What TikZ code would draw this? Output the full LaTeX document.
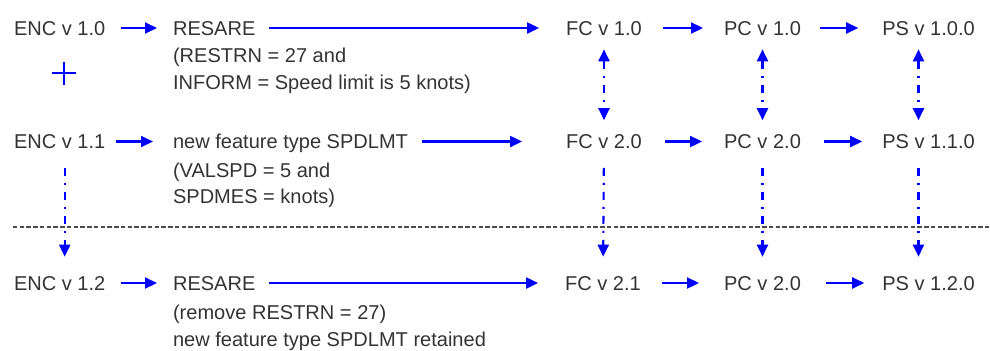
\documentclass[tikz,border=0pt]{standalone}
\usepackage{fontspec}
\setmainfont{Liberation Sans}
\usetikzlibrary{arrows.meta}

\begin{document}
\begin{tikzpicture}[line width=1.2pt,>={Triangle[length=0.24cm,width=0.22cm]},
  lbl/.style={inner sep=0pt,text height=0.29cm,text depth=0pt,text=black!80,font=\fontsize{11.4}{14}\selectfont},
  flow/.style={->,blue,shorten <=0.3cm,shorten >=0.3cm},
  link/.style={blue,dash pattern=on 0.16cm off 0.14cm on 0.04cm off 0.14cm,shorten <=0.26cm,shorten >=0.26cm}]
  \useasboundingbox (0,0) rectangle (19.8,-7);
  % ENC v 1.0
  \node[lbl,anchor=west] (enc10) at (0.26,-0.56) {ENC v 1.0};
  \node[lbl,anchor=west] (resare1) at (3.44,-0.56) {RESARE};
  \node[lbl,anchor=west] (resare1b) at (3.44,-1.10) {(RESTRN = 27 and};
  \node[lbl,anchor=west] (resare1c) at (3.44,-1.64) {INFORM = Speed limit is 5 knots)};
  \node[lbl] (fc10) at (12.08,-0.56) {FC v 1.0};
  \node[lbl] (pc10) at (15.25,-0.56) {PC v 1.0};
  \node[lbl] (ps100) at (18.57,-0.56) {PS v 1.0.0};
  \draw[blue,line width=1.1pt] (1.04,-1.46)--(1.52,-1.46) (1.28,-1.23)--(1.28,-1.69);
  % ENC v 1.1
  \node[lbl,anchor=west] (enc11) at (0.26,-2.83) {ENC v 1.1};
  \node[lbl,anchor=west] (spdlmt) at (3.44,-2.83) {new feature type SPDLMT};
  \node[lbl,anchor=west] (spdlmtb) at (3.44,-3.40) {(VALSPD = 5 and};
  \node[lbl,anchor=west] (spdlmtc) at (3.44,-3.93) {SPDMES = knots)};
  \node[lbl] (fc20) at (12.08,-2.83) {FC v 2.0};
  \node[lbl] (pc20) at (15.25,-2.83) {PC v 2.0};
  \node[lbl] (ps110) at (18.57,-2.83) {PS v 1.1.0};
  % ENC v 1.2
  \node[lbl,anchor=west] (enc12) at (0.26,-5.66) {ENC v 1.2};
  \node[lbl,anchor=west] (resare2) at (3.44,-5.66) {RESARE};
  \node[lbl,anchor=west] (resare2b) at (3.44,-6.25) {(remove RESTRN = 27)};
  \node[lbl,anchor=west] (resare2c) at (3.44,-6.79) {new feature type SPDLMT retained};
  \node[lbl] (fc21) at (12.06,-5.66) {FC v 2.1};
  \node[lbl] (pc20b) at (15.25,-5.66) {PC v 2.0};
  \node[lbl] (ps120) at (18.57,-5.66) {PS v 1.2.0};
  \draw[black!70,line width=0.8pt,dash pattern=on 0.09cm off 0.045cm] (0.26,-4.54)--(19.8,-4.54);
  % horizontal flow
  \draw[flow] (enc10)--(resare1); \draw[flow,shorten <=0.26cm,shorten >=0.52cm] (resare1)--(fc10);
  \draw[flow,shorten <=0.4cm,shorten >=0.4cm] (fc10)--(pc10); \draw[flow,shorten <=0.36cm,shorten >=0.46cm] (pc10)--(ps100);
  \draw[flow,shorten <=0.2cm,shorten >=0.38cm] (enc11)--(spdlmt); \draw[flow,shorten <=0.26cm,shorten >=0.86cm] (spdlmt)--(fc20);
  \draw[flow,shorten <=0.44cm,shorten >=0.42cm] (fc20)--(pc20); \draw[flow,shorten <=0.44cm,shorten >=0.38cm] (pc20)--(ps110);
  \draw[flow] (enc12)--(resare2); \draw[flow,shorten <=0.26cm,shorten >=0.52cm] (resare2)--(fc21);
  \draw[flow,shorten <=0.4cm,shorten >=0.48cm] (fc21)--(pc20b); \draw[flow,shorten <=0.48cm,shorten >=0.34cm] (pc20b)--(ps120);
  % version links
  \draw[link,<->] (fc10)--(fc20); \draw[link,<->] (pc10)--(pc20);
  \draw[link,<->] ([xshift=-0.2cm]ps100.south)--([xshift=-0.2cm]ps110.north);
  \draw[link,->,shorten <=0.36cm,shorten >=0.36cm] ([xshift=0.1cm]enc11.south)--([xshift=0.1cm]enc12.north);
  \draw[link,->,shorten <=0.36cm,shorten >=0.36cm] (fc20)--(fc21);
  \draw[link,->,shorten <=0.36cm,shorten >=0.36cm] (pc20)--(pc20b);
  \draw[link,->,shorten <=0.36cm,shorten >=0.36cm] ([xshift=-0.2cm]ps110.south)--([xshift=-0.2cm]ps120.north);
\end{tikzpicture}
\end{document}
